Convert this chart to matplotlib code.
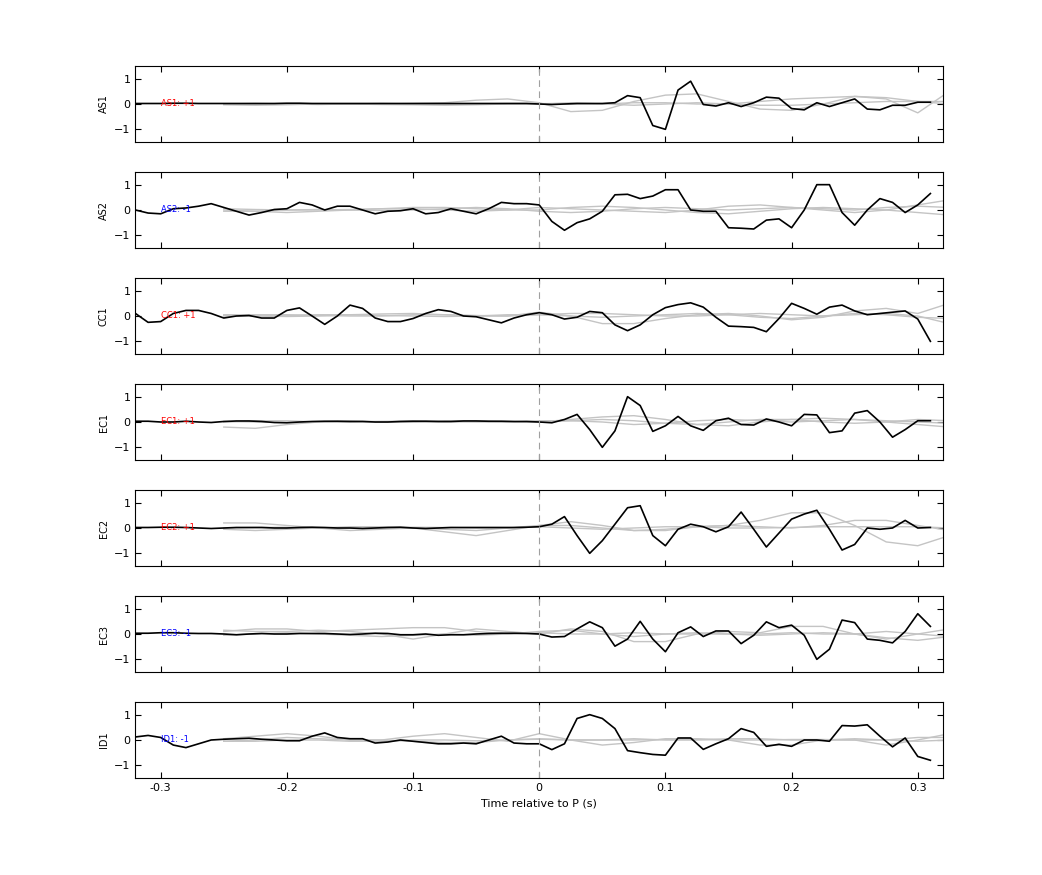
import numpy as np
import matplotlib.pyplot as plt

stations = ['AS1', 'AS2', 'CC1', 'EC1', 'EC2', 'EC3', 'ID1']
polarity = ['+1', '-1', '+1', '+1', '+1', '-1', '-1']

# black traces, t = -0.32 .. 0.31 every 0.01 s
t0 = -0.32
traces = {
    'AS1': [0.02, 0.02, 0.02, 0.03, 0.03, 0.02, 0.02, 0.02, 0.02, 0.02,
            0.02, 0.02, 0.03, 0.03, 0.02, 0.02, 0.02, 0.02, 0.02, 0.02,
            0.02, 0.02, 0.02, 0.02, 0.02, 0.02, 0.02, 0.02, 0.02, 0.02,
            0.02, 0.02, 0.0, -0.02, 0.0, 0.02, 0.02, 0.02, 0.05, 0.33,
            0.25, -0.85, -1.0, 0.55, 0.9, -0.02, -0.08, 0.05, -0.1, 0.05,
            0.27, 0.23, -0.18, -0.23, 0.05, -0.1, 0.05, 0.2, -0.2, -0.23,
            -0.05, -0.05, 0.07, 0.07],
    'AS2': [0, -0.12, -0.15, 0.05, 0.08, 0.15, 0.25, 0.1, -0.05, -0.2,
            -0.1, 0.02, 0.05, 0.3, 0.2, 0.0, 0.15, 0.15, 0.0, -0.15,
            -0.05, -0.03, 0.05, -0.15, -0.1, 0.05, -0.05, -0.15, 0.05, 0.3,
            0.25, 0.25, 0.2, -0.45, -0.8, -0.5, -0.35, -0.05, 0.6, 0.62,
            0.45, 0.55, 0.8, 0.8, 0.0, -0.05, -0.05, -0.7, -0.72, -0.75,
            -0.4, -0.35, -0.7, 0.0, 1.0, 1.0, -0.1, -0.6, 0.0, 0.45,
            0.3, -0.1, 0.2, 0.65],
    'CC1': [0.1, -0.25, -0.22, 0.1, 0.22, 0.22, 0.1, -0.08, 0.0, 0.02,
            -0.08, -0.08, 0.22, 0.32, 0.0, -0.33, 0.0, 0.43, 0.3, -0.08,
            -0.22, -0.22, -0.1, 0.1, 0.25, 0.18, 0.0, -0.03, -0.15, -0.27,
            -0.08, 0.05, 0.13, 0.05, -0.12, -0.05, 0.18, 0.13, -0.35, -0.58,
            -0.35, 0.05, 0.33, 0.45, 0.52, 0.35, -0.05, -0.4, -0.42, -0.45,
            -0.62, -0.1, 0.5, 0.3, 0.07, 0.35, 0.43, 0.2, 0.05, 0.1,
            0.15, 0.2, -0.12, -1.0],
    'EC1': [0.03, 0.03, 0.0, 0.0, 0.03, 0.0, -0.02, 0.02, 0.04, 0.04,
            0.02, -0.02, -0.03, 0.0, 0.02, 0.03, 0.03, 0.02, 0.02, 0.0,
            0.0, 0.02, 0.03, 0.03, 0.02, 0.02, 0.04, 0.04, 0.03, 0.03,
            0.02, 0.02, 0.0, -0.03, 0.1, 0.3, -0.3, -1.0, -0.35, 1.0,
            0.65, -0.37, -0.15, 0.22, -0.15, -0.33, 0.05, 0.15, -0.1, -0.12,
            0.12, 0.0, -0.15, 0.3, 0.28, -0.42, -0.35, 0.35, 0.45, 0.0,
            -0.6, -0.3, 0.05, 0.05],
    'EC2': [0.02, 0.02, 0.03, 0.03, 0.02, 0.0, -0.02, 0.0, 0.02, 0.02,
            0.02, 0.0, 0.0, 0.02, 0.03, 0.02, 0.0, 0.0, -0.02, 0.0,
            0.02, 0.03, 0.0, -0.02, 0.0, 0.02, 0.02, 0.02, 0.02, 0.02,
            0.02, 0.03, 0.05, 0.15, 0.45, -0.3, -1.0, -0.5, 0.15, 0.8,
            0.88, -0.3, -0.7, -0.05, 0.15, 0.05, -0.15, 0.05, 0.63, -0.05,
            -0.75, -0.2, 0.35, 0.55, 0.7, -0.05, -0.87, -0.65, 0.0, -0.05,
            0.0, 0.3, 0.0, 0.02],
    'EC3': [0.03, 0.03, 0.05, 0.05, 0.03, 0.02, 0.02, 0.0, -0.03, 0.0,
            0.02, 0.0, 0.0, 0.02, 0.02, 0.02, 0.0, -0.02, 0.0, 0.03,
            0.02, -0.03, -0.03, 0.0, -0.05, -0.03, -0.03, 0.0, 0.02, 0.03,
            0.03, 0.02, 0.0, -0.12, -0.1, 0.2, 0.48, 0.25, -0.48, -0.2,
            0.5, -0.2, -0.7, 0.05, 0.28, -0.1, 0.12, 0.12, -0.38, -0.05,
            0.48, 0.25, 0.35, -0.05, -1.0, -0.6, 0.55, 0.45, -0.2, -0.25,
            -0.35, 0.1, 0.8, 0.3],
    'ID1': [0.12, 0.18, 0.1, -0.2, -0.3, -0.15, 0.0, 0.03, 0.05, 0.07,
            0.03, 0.0, -0.03, -0.03, 0.15, 0.28, 0.1, 0.05, 0.05, -0.12,
            -0.08, 0.0, -0.05, -0.1, -0.15, -0.15, -0.12, -0.15, 0.0, 0.15,
            -0.12, -0.15, -0.15, -0.38, -0.15, 0.85, 1.0, 0.85, 0.45, -0.42,
            -0.5, -0.57, -0.6, 0.08, 0.08, -0.37, -0.15, 0.05, 0.45, 0.3,
            -0.25, -0.17, -0.25, 0.0, 0.0, -0.05, 0.57, 0.55, 0.6, 0.15,
            -0.27, 0.08, -0.65, -0.8],
}

# grey traces, t = -0.25 .. 0.325 every 0.025 s
g0 = -0.25
grey = {
    'AS1': [[0, 0, 0, 0, 0, 0, 0.02, 0.05, 0.15, 0.2, 0.05, -0.3, -0.25, 0.1, 0.35, 0.4, 0.1, -0.2, -0.25, 0.0, 0.3, 0.2, -0.35, 0.5],
            [-0.03, -0.05, -0.03, 0, 0, -0.02, -0.03, -0.05, -0.03, 0, 0, 0.05, 0.0, -0.05, 0.0, 0.05, 0.0, 0.1, 0.2, 0.25, 0.3, 0.25, 0.1, 0.0],
            [0, 0.02, 0, -0.02, 0, 0.02, 0, 0, 0, 0.02, 0.02, 0, 0, 0.05, 0.05, 0, 0, -0.05, -0.05, 0, 0.05, 0.1, 0.1, 0.1]],
    'AS2': [[0.0, -0.05, -0.1, -0.05, 0.0, 0.05, 0.05, 0.0, -0.05, 0.0, 0.1, 0.05, 0.0, -0.05, -0.1, 0.0, 0.15, 0.2, 0.1, 0.0, -0.1, 0.0, 0.2, 0.4],
            [0.05, 0.02, 0.0, 0.0, 0.02, 0.05, 0.1, 0.1, 0.05, 0.0, 0.0, 0.1, 0.15, 0.1, 0.0, -0.1, -0.15, -0.05, 0.05, 0.1, 0.05, 0.0, -0.1, -0.2],
            [-0.05, -0.05, 0.0, 0.02, 0.0, -0.02, 0.0, 0.05, 0.1, 0.05, -0.05, -0.1, -0.05, 0.05, 0.1, 0.05, 0.0, 0.05, 0.1, 0.05, 0.0, 0.1, 0.15, 0.1]],
    'CC1': [[0.02, 0.0, -0.02, 0.0, 0.05, 0.08, 0.1, 0.05, 0.0, 0.0, 0.15, 0.0, -0.3, -0.3, -0.1, 0.05, 0.1, 0.0, -0.15, -0.05, 0.2, 0.3, 0.1, 0.5],
            [0.05, 0.05, 0.05, 0.02, 0.0, 0.0, 0.05, 0.05, 0.02, 0.0, 0.05, 0.1, 0.1, 0.05, 0.0, 0.0, 0.05, 0.1, 0.05, 0.0, 0.05, 0.1, 0.0, -0.3],
            [0.0, 0.0, 0.02, 0.05, 0.05, 0.02, 0.0, -0.02, 0.0, 0.05, 0.05, 0.0, -0.05, 0.0, 0.05, 0.1, 0.05, -0.05, -0.1, 0.0, 0.1, 0.05, -0.05, -0.1]],
    'EC1': [[-0.2, -0.25, -0.1, 0.0, 0.05, 0.0, 0.0, 0.05, 0.05, 0.0, 0.0, 0.1, 0.2, 0.25, 0.1, -0.1, -0.15, 0.0, 0.1, 0.15, 0.1, 0.0, -0.1, -0.2],
            [0.0, 0.05, 0.05, 0.0, 0.0, 0.02, 0.05, 0.02, 0.0, 0.0, 0.05, 0.05, 0.0, -0.1, -0.05, 0.05, 0.1, 0.05, 0.0, 0.05, 0.1, 0.05, 0.0, -0.05],
            [0.02, 0.0, -0.02, 0.0, 0.02, 0.02, 0.0, 0.0, 0.02, 0.02, 0.0, 0.05, 0.1, 0.05, -0.05, -0.1, 0.0, 0.1, 0.1, 0.0, -0.05, 0.0, 0.1, 0.05]],
    'EC2': [[0.2, 0.2, 0.1, 0.0, -0.1, -0.05, 0.0, -0.15, -0.3, -0.1, 0.1, 0.25, 0.1, -0.1, -0.1, 0.05, 0.1, 0.3, 0.6, 0.6, 0.1, -0.55, -0.7, -0.3],
            [-0.05, -0.1, -0.05, 0.0, 0.05, 0.05, 0.0, -0.05, -0.1, 0.0, 0.1, 0.1, 0.0, -0.1, -0.05, 0.05, 0.1, 0.05, 0.0, 0.1, 0.3, 0.3, 0.1, -0.1],
            [0.0, 0.02, 0.03, 0.0, 0.0, 0.02, 0.03, 0.02, 0.0, 0.0, 0.05, 0.0, -0.05, 0.0, 0.05, 0.05, 0.0, 0.0, 0.02, 0.05, 0.05, 0.05, 0.05, 0.0]],
    'EC3': [[0.15, 0.1, 0.1, 0.15, 0.1, 0.0, -0.2, 0.0, 0.2, 0.1, 0.0, 0.2, 0.1, -0.3, -0.3, 0.0, 0.1, 0.05, 0.3, 0.3, 0.0, -0.2, 0.0, 0.2],
            [0.1, 0.2, 0.2, 0.1, 0.15, 0.2, 0.25, 0.25, 0.1, 0.0, 0.1, 0.15, 0.0, -0.1, 0.0, 0.05, 0.0, -0.05, 0.0, 0.05, 0.0, -0.15, -0.25, -0.1],
            [-0.05, 0.0, 0.05, 0.0, -0.05, -0.1, -0.05, 0.0, -0.05, 0.0, 0.05, 0.0, 0.0, 0.05, 0.0, 0.0, 0.0, 0.0, 0.05, 0.0, 0.0, 0.1, 0.0, -0.1]],
    'ID1': [[0.05, 0.15, 0.25, 0.15, 0.0, 0.0, 0.15, 0.25, 0.1, -0.05, 0.25, 0.0, -0.2, -0.1, 0.05, 0.05, 0.0, -0.2, -0.2, 0.0, 0.0, -0.2, 0.0, 0.25],
            [-0.05, 0.0, 0.1, 0.05, 0.0, 0.0, -0.05, -0.1, -0.1, 0.0, 0.05, 0.0, 0.0, 0.05, 0.0, 0.0, 0.05, 0.05, 0.0, 0.0, 0.05, 0.0, 0.1, 0.1],
            [-0.05, -0.05, 0.0, 0.0, -0.05, -0.05, 0.0, 0.0, -0.03, 0.0, 0.03, 0.0, 0.0, 0.0, 0.02, 0.02, 0.0, 0.0, 0.02, 0.02, 0.0, 0.0, -0.05, 0.0]],
}

fig = plt.figure(figsize=(10.42, 8.75), dpi=100)
for i, st in enumerate(stations):
    ax = fig.add_axes([0.13, 1 - (142 + 106 * i) / 875, 0.775, 76 / 875])
    for g in grey[st]:
        ax.plot(g0 + 0.025 * np.arange(len(g)), g, color='#c4c4c4', lw=1)
    y = traces[st]
    ax.plot(t0 + 0.01 * np.arange(len(y)), y, color='k', lw=1.2)
    ax.axvline(0, color='#a0a0a0', lw=0.8, ls=(0, (6, 4)))
    col = 'red' if polarity[i] == '+1' else 'blue'
    ax.text(-0.3, 0, '%s: %s' % (st, polarity[i]), color=col, fontsize=6, va='center')
    ax.set_xlim(-0.32, 0.32)
    ax.set_ylim(-1.5, 1.5)
    ax.set_yticks([-1, 0, 1])
    ax.set_xticks([-0.3, -0.2, -0.1, 0, 0.1, 0.2, 0.3])
    ax.tick_params(direction='in', top=True, right=True, labelsize=8, length=4)
    ax.set_ylabel(st, fontsize=7)
    if i < len(stations) - 1:
        ax.set_xticklabels([])
    else:
        ax.set_xticklabels(['-0.3', '-0.2', '-0.1', '0', '0.1', '0.2', '0.3'])
        ax.set_xlabel('Time relative to P (s)', fontsize=8)

fig.savefig('out.png')
